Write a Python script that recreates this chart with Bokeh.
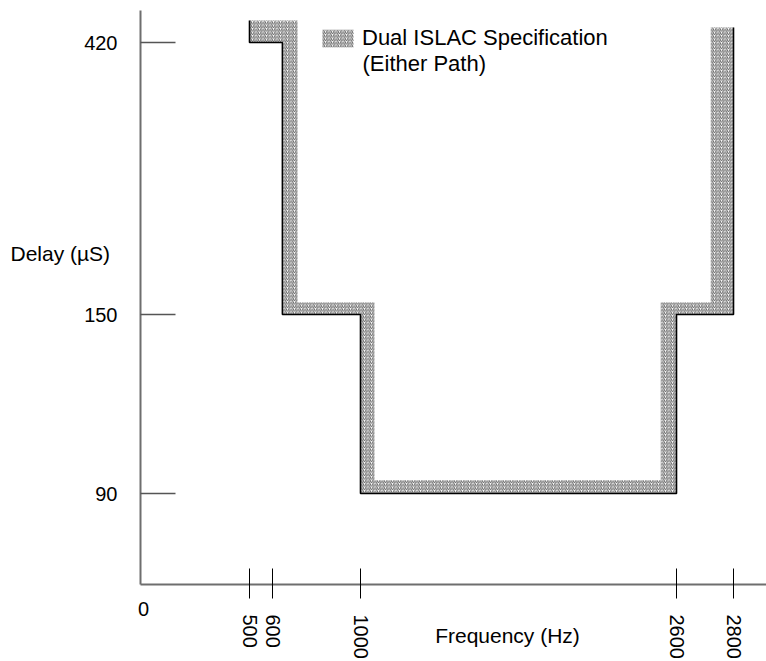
import numpy as np
from bokeh.plotting import figure
from bokeh.models import Range1d, FixedTicker, Label, Legend, LegendItem, ColumnDataSource
from bokeh.embed import file_html
from bokeh.resources import INLINE

# ---- schematic (not-to-scale) axis mapping: value -> position along the axis ----
X_SCALE_HZ = [0, 500, 600, 1000, 2600, 2800, 3000]
X_SCALE_POS = [0, 109, 132, 220, 536, 593, 630]
Y_SCALE_US = [0, 90, 150, 420, 480]
Y_SCALE_POS = [0, 91, 270, 542, 602]

# ---- tick labels ----
FREQ_TICKS = [500, 600, 1000, 2600, 2800]
DELAY_TICKS = [90, 150, 420]

# ---- specification limit (black line) ----
LIMIT_FREQ = [500, 500, 645, 645, 1000, 1000, 2600, 2600, 2800, 2800]
LIMIT_DELAY = [442, 420, 420, 150, 150, 90, 90, 150, 150, 435]

# ---- inner edge of the hatched tolerance band ----
INNER_FREQ = [714, 714, 1071, 1071, 2520, 2520, 2720, 2720]
INNER_DELAY = [442, 162, 162, 94.4, 94.4, 162, 162, 435]

LEGEND_LINE1 = "Dual ISLAC Specification"
LEGEND_LINE2 = "(Either Path)"
X_TITLE = "Frequency (Hz)"
Y_TITLE = "Delay (µS)"

FONT = "Liberation Sans"


def fx(v):
    return np.interp(np.asarray(v, dtype=float), X_SCALE_HZ, X_SCALE_POS)


def fy(v):
    return np.interp(np.asarray(v, dtype=float), Y_SCALE_US, Y_SCALE_POS)


p = figure(width=766, height=661,
           x_range=Range1d(-140, 626), y_range=Range1d(-77, 584),
           output_backend="svg", toolbar_location=None,
           min_border=0)
p.outline_line_color = None
p.grid.visible = False
p.background_fill_color = "white"

# band polygon = limit path + reversed inner path
band_x = np.concatenate([fx(LIMIT_FREQ), fx(INNER_FREQ[::-1])])
band_y = np.concatenate([fy(LIMIT_DELAY), fy(INNER_DELAY[::-1])])
band = p.patch(band_x, band_y, fill_color="white", line_alpha=0,
               hatch_pattern="/", hatch_scale=3.5, hatch_weight=0.9,
               hatch_color="#555555")

limit_src = ColumnDataSource(dict(x=fx(LIMIT_FREQ), y=fy(LIMIT_DELAY)))
p.line("x", "y", source=limit_src, line_color="black", line_width=1.6)

# x axis (drawn at delay = 0)
xt = [int(round(v)) for v in fx(FREQ_TICKS)]
xa = p.xaxis[0]
xa.fixed_location = 0
xa.bounds = (0, 626)
xa.ticker = FixedTicker(ticks=xt)
xa.major_label_overrides = {t: str(f) for t, f in zip(xt, FREQ_TICKS)}
xa.major_label_orientation = "vertical"
xa.axis_line_color = "#6e6e6e"
xa.axis_line_width = 2
xa.major_tick_line_color = "black"
xa.major_tick_line_width = 1
xa.major_tick_in = 16
xa.major_tick_out = 14
xa.minor_tick_line_color = None
xa.major_label_standoff = 16
xa.major_label_text_font = FONT
xa.major_label_text_font_size = "20px"
xa.major_label_text_color = "black"

# y axis (drawn at frequency = 0)
yt = [int(round(v)) for v in fy(DELAY_TICKS)]
ya = p.yaxis[0]
ya.fixed_location = 0
ya.bounds = (0, 574)
ya.ticker = FixedTicker(ticks=yt)
ya.major_label_overrides = {t: str(d) for t, d in zip(yt, DELAY_TICKS)}
ya.axis_line_color = "#6e6e6e"
ya.axis_line_width = 2
ya.major_tick_line_color = "#555555"
ya.major_tick_line_width = 1.3
ya.major_tick_in = 35
ya.major_tick_out = 0
ya.minor_tick_line_color = None
ya.major_label_standoff = 23
ya.major_label_text_font = FONT
ya.major_label_text_font_size = "20px"
ya.major_label_text_color = "black"

# titles and origin label
p.add_layout(Label(x=0, y=0, text="0", x_offset=3, y_offset=-24,
                   text_align="center", text_baseline="middle",
                   text_font=FONT, text_font_size="20px", text_color="black"))
p.add_layout(Label(x=367, y=-51, text=X_TITLE,
                   text_align="center", text_baseline="middle",
                   text_font=FONT, text_font_size="21px", text_color="black"))
p.add_layout(Label(x=-130, y=331, text=Y_TITLE,
                   text_align="left", text_baseline="middle",
                   text_font=FONT, text_font_size="21px", text_color="black"))
p.add_layout(Label(x=222, y=521, text=LEGEND_LINE2,
                   text_align="left", text_baseline="middle",
                   text_font=FONT, text_font_size="22px", text_color="black"))

legend = Legend(items=[LegendItem(label=LEGEND_LINE1, renderers=[band])],
                location=(318, 610), orientation="vertical",
                glyph_width=39, glyph_height=22, label_standoff=5,
                label_text_font=FONT, label_text_font_size="22px",
                label_text_color="black",
                padding=0, margin=0, spacing=0,
                border_line_alpha=0, background_fill_alpha=0)
p.add_layout(legend)

open("out.html", "w").write(file_html(p, INLINE))
